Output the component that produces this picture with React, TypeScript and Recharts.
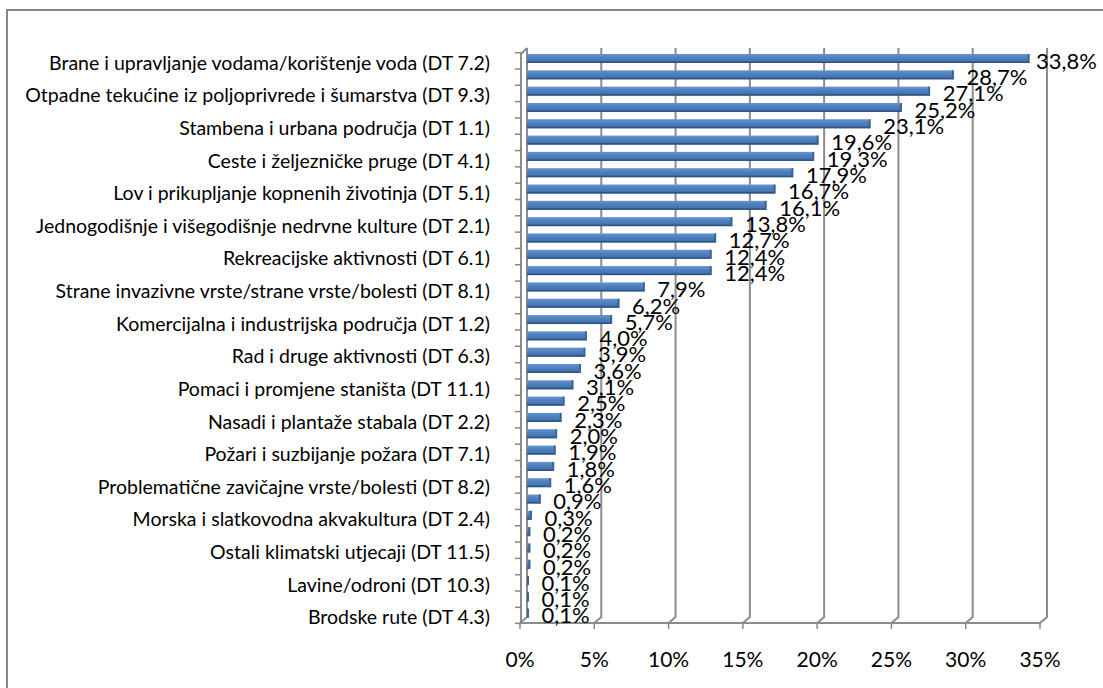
import React from 'react'
import { BarChart, Bar, XAxis, YAxis, CartesianGrid, LabelList } from 'recharts'

const W = 1103
const H = 688
const FONT = 'Lato, "Open Sans", sans-serif'

// ─── Data ───────────────────────────────────────────────────────
// the category axis only prints every other name, the rest are blank here
const categories = [
  'Brane i upravljanje vodama/korištenje voda (DT 7.2)', '',
  'Otpadne tekućine iz poljoprivrede i šumarstva (DT 9.3)', '',
  'Stambena i urbana područja (DT 1.1)', '',
  'Ceste i željezničke pruge (DT 4.1)', '',
  'Lov i prikupljanje kopnenih životinja (DT 5.1)', '',
  'Jednogodišnje i višegodišnje nedrvne kulture (DT 2.1)', '',
  'Rekreacijske aktivnosti (DT 6.1)', '',
  'Strane invazivne vrste/strane vrste/bolesti (DT 8.1)', '',
  'Komercijalna i industrijska područja (DT 1.2)', '',
  'Rad i druge aktivnosti (DT 6.3)', '',
  'Pomaci i promjene staništa (DT 11.1)', '',
  'Nasadi i plantaže stabala (DT 2.2)', '',
  'Požari i suzbijanje požara (DT 7.1)', '',
  'Problematične zavičajne vrste/bolesti (DT 8.2)', '',
  'Morska i slatkovodna akvakultura (DT 2.4)', '',
  'Ostali klimatski utjecaji (DT 11.5)', '',
  'Lavine/odroni (DT 10.3)', '',
  'Brodske rute (DT 4.3)',
]

const values = [
  33.8, 28.7, 27.1, 25.2, 23.1, 19.6, 19.3, 17.9, 16.7, 16.1,
  13.8, 12.7, 12.4, 12.4, 7.9, 6.2, 5.7, 4.0, 3.9, 3.6,
  3.1, 2.5, 2.3, 2.0, 1.9, 1.8, 1.6, 0.9, 0.3, 0.2,
  0.2, 0.2, 0.1, 0.1, 0.1,
]

const xTicks = [0, 5, 10, 15, 20, 25, 30, 35]

const data = categories.map((name, i) => ({ id: String(i), name, value: values[i] }))

const fmt = (v: number) => `${v.toFixed(1).replace('.', ',')}%`

// ─── Axis ticks ─────────────────────────────────────────────────
function CategoryTick(props: any) {
  const { x, y, payload } = props
  const i = Number(payload.value)
  const name = categories[i]
  const last = i === categories.length - 1
  return (
    <g>
      <line x1={x - 12} x2={x - 6} y1={y - 5.5} y2={y - 5.5} stroke="#868686" strokeWidth={1.5} />
      {last && <line x1={x - 12} x2={x - 6} y1={y + 10.5} y2={y + 10.5} stroke="#868686" strokeWidth={1.5} />}
      {name && (
        <text x={x - 37} y={y + 11.5} textAnchor="end" fontFamily={FONT} fontSize={19.5} fill="#000">
          {name}
        </text>
      )}
    </g>
  )
}

function PercentTick(props: any) {
  const { x, y, payload } = props
  return (
    <g>
      <line x1={x - 7} x2={x - 7} y1={y + 2} y2={y + 8} stroke="#868686" strokeWidth={1.5} />
      <text x={x - 7} y={y + 46} textAnchor="middle" fontFamily={FONT} fontSize={21} fill="#000">
        {payload.value}%
      </text>
    </g>
  )
}

// ─── 3D-ish walls ───────────────────────────────────────────────
function GridLine(p: any) {
  const { x1, y1, y2, index } = p
  const stroke = '#8c8c8c'
  return (
    <g key={`gl-${index}`}>
      <polyline
        points={`${x1},${y1 - 2} ${x1},${y2 - 4} ${x1 - 7},${y2 + 2}`}
        fill="none"
        stroke={stroke}
        strokeWidth={2}
      />
      {index === 0 && (
        <>
          <line x1={x1 - 7} x2={p.x + p.width - 7} y1={y2 + 2} y2={y2 + 2} stroke={stroke} strokeWidth={2} />
          <polyline
            points={`${x1},${y1 - 2} ${x1 - 6},${y1 + 4} ${x1 - 6},${y2 + 2}`}
            fill="none"
            stroke={stroke}
            strokeWidth={2}
          />
        </>
      )}
    </g>
  )
}

function Bar3D(p: any) {
  const { x, y, width, height } = p
  if (!width || width <= 0) return null
  return (
    <g>
      <rect x={x} y={y} width={width} height={height} fill="url(#barFill)" />
      <rect x={x} y={y + height - 1.5} width={width} height={1.5} fill="#2d5384" />
      <rect x={x + width - 1.5} y={y} width={2} height={height} fill="#3a6496" />
    </g>
  )
}

function ValueLabel(p: any) {
  const { x, y, width, height, value } = p
  let tx = x + width + 13
  let anchor: 'start' | 'end' = 'start'
  if (tx + 64 > W - 4) {
    tx = W - 6
    anchor = 'end'
  }
  return (
    <text x={tx} y={y + height / 2 + 10.3} textAnchor={anchor} fontFamily={FONT} fontSize={22} fill="#000">
      {fmt(value)}
    </text>
  )
}

export default function App() {
  return (
    <div style={{ position: 'absolute', left: 0, top: 0, width: W, height: H, background: '#fff', overflow: 'hidden' }}>
      <div
        style={{
          position: 'absolute',
          left: 6,
          top: 9,
          width: W,
          height: H,
          borderTop: '2px solid #878787',
          borderLeft: '2px solid #878787',
        }}
      />
      <div style={{ position: 'absolute', left: 0, top: 0 }}>
        <BarChart
          width={W}
          height={H}
          data={data}
          layout="vertical"
          margin={{ top: 50, right: 56, left: 0, bottom: 0 }}
          barSize={9}
        >
          <defs>
            <linearGradient id="barFill" x1="0" y1="0" x2="0" y2="1">
              <stop offset="0%" stopColor="#6594d2" />
              <stop offset="40%" stopColor="#4f81bd" />
              <stop offset="100%" stopColor="#3f6ea8" />
            </linearGradient>
          </defs>
          <CartesianGrid horizontal={false} vertical={GridLine} />
          <XAxis
            type="number"
            domain={[0, 35]}
            ticks={xTicks}
            height={67}
            tickSize={0}
            tickMargin={0}
            axisLine={false}
            tickLine={false}
            tick={PercentTick}
          />
          <YAxis
            type="category"
            dataKey="id"
            width={527}
            interval={0}
            tickSize={0}
            tickMargin={0}
            axisLine={false}
            tickLine={false}
            tick={CategoryTick}
          />
          <Bar dataKey="value" shape={Bar3D} isAnimationActive={false}>
            <LabelList dataKey="value" content={ValueLabel} />
          </Bar>
        </BarChart>
      </div>
    </div>
  )
}
